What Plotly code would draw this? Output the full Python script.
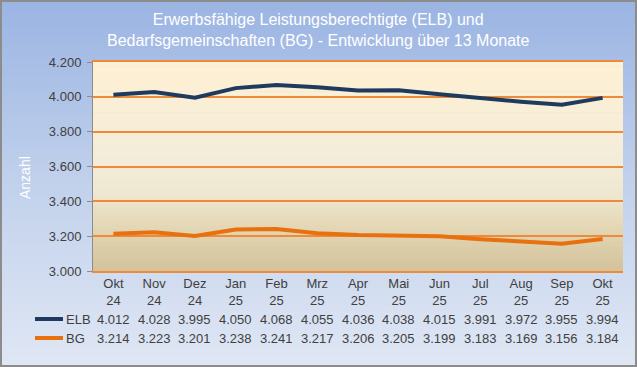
import plotly.graph_objects as go

months = ["Okt", "Nov", "Dez", "Jan", "Feb", "Mrz", "Apr", "Mai", "Jun", "Jul", "Aug", "Sep", "Okt"]
years = ["24", "24", "24", "25", "25", "25", "25", "25", "25", "25", "25", "25", "25"]
elb = [4012, 4028, 3995, 4050, 4068, 4055, 4036, 4038, 4015, 3991, 3972, 3955, 3994]
bg = [3214, 3223, 3201, 3238, 3241, 3217, 3206, 3205, 3199, 3183, 3169, 3156, 3184]
series_names = ["ELB", "BG"]
y_ticks = [3000, 3200, 3400, 3600, 3800, 4000, 4200]

cats = [f"{m} {y}" for m, y in zip(months, years)]
tick_text = [f"{m}<br>{y}" for m, y in zip(months, years)]

W, H = 637, 367
L, R, T, B = 93, 14, 62, 96
PW, PH = W - L - R, H - T - B

ELB_COL = "#1F3A5F"
BG_COL = "#E8700E"
TXT = "#404040"


def px_x(px):
    return (px - L) / PW


def px_y(py):
    return (H - B - py) / PH


def fmt(v):
    return f"{v:,}".replace(",", ".")


def hex2rgb(h):
    h = h.lstrip("#")
    return tuple(int(h[i:i + 2], 16) for i in (0, 2, 4))


def interp(stops, t):
    for (t0, c0), (t1, c1) in zip(stops, stops[1:]):
        if t0 <= t <= t1:
            f = (t - t0) / (t1 - t0) if t1 > t0 else 0
            a, b = hex2rgb(c0), hex2rgb(c1)
            return "rgb(%d,%d,%d)" % tuple(round(a[i] + (b[i] - a[i]) * f) for i in range(3))
    return stops[-1][1]


fig = go.Figure()
fig.add_trace(go.Scatter(x=cats, y=elb, mode="lines", name=series_names[0],
                         line=dict(color=ELB_COL, width=4), showlegend=False))
fig.add_trace(go.Scatter(x=cats, y=bg, mode="lines", name=series_names[1],
                         line=dict(color=BG_COL, width=4), showlegend=False))

shapes = []
# outer background gradient (top -> bottom)
outer_stops = [(0, "#9AB4E2"), (0.5, "#C2D1EC"), (1, "#DFE7F4")]
n = 60
for i in range(n):
    y0p = i * H / n
    y1p = (i + 1) * H / n + 0.6
    shapes.append(dict(type="rect", xref="paper", yref="paper", layer="below",
                       x0=px_x(0), x1=px_x(W), y0=px_y(min(y1p, H)), y1=px_y(y0p),
                       fillcolor=interp(outer_stops, (i + 0.5) / n), line=dict(width=0)))
# plot area gradient
plot_stops = [(0, "#FEF0D3"), (0.45, "#F4EDD9"), (0.62, "#EFE8D2"), (0.8, "#E3D6B4"), (1, "#D3C29B")]
n = 50
for i in range(n):
    y0p = T + i * PH / n
    y1p = T + (i + 1) * PH / n + 0.6
    shapes.append(dict(type="rect", xref="paper", yref="paper", layer="below",
                       x0=0, x1=1, y0=px_y(min(y1p, T + PH)), y1=px_y(y0p),
                       fillcolor=interp(plot_stops, (i + 0.5) / n), line=dict(width=0)))
# outer border
shapes.append(dict(type="rect", xref="paper", yref="paper", layer="above",
                   x0=px_x(1), x1=px_x(W - 1), y0=px_y(H - 1), y1=px_y(1),
                   line=dict(color="#8C8C8C", width=2), fillcolor="rgba(0,0,0,0)"))
# legend keys
for name, col, py in [(series_names[0], ELB_COL, 319), (series_names[1], BG_COL, 338)]:
    shapes.append(dict(type="line", xref="paper", yref="paper",
                       x0=px_x(35), x1=px_x(63), y0=px_y(py), y1=px_y(py),
                       line=dict(color=col, width=4)))

annotations = []
annotations.append(dict(text="Erwerbsfähige Leistungsberechtigte (ELB) und<br>Bedarfsgemeinschaften (BG) - Entwicklung über 13 Monate",
                        xref="paper", yref="paper", x=px_x(318), y=px_y(30),
                        xanchor="center", yanchor="middle", showarrow=False,
                        font=dict(size=16, color="white")))
annotations.append(dict(text="Anzahl", xref="paper", yref="paper", x=px_x(25), y=px_y(178),
                        textangle=-90, xanchor="center", yanchor="middle", showarrow=False,
                        font=dict(size=14, color="white")))
for name, vals, py in [(series_names[0], elb, 319), (series_names[1], bg, 338)]:
    annotations.append(dict(text=name, xref="paper", yref="paper", x=px_x(64), y=px_y(py),
                            xanchor="left", yanchor="middle", showarrow=False,
                            font=dict(size=13, color=TXT)))
    for c, v in zip(cats, vals):
        annotations.append(dict(text=fmt(v), xref="x", yref="paper", x=c, y=px_y(py),
                                xanchor="center", yanchor="middle", showarrow=False,
                                font=dict(size=13, color=TXT)))

fig.update_layout(
    width=W, height=H,
    margin=dict(l=L, r=R, t=T, b=B),
    paper_bgcolor="#C2D1EC",
    plot_bgcolor="rgba(0,0,0,0)",
    separators=",.",
    font=dict(family="Liberation Sans, Arial, sans-serif", size=13, color=TXT),
    shapes=shapes,
    annotations=annotations,
    showlegend=False,
    xaxis=dict(type="category", categoryorder="array", categoryarray=cats,
               tickvals=cats, ticktext=tick_text, range=[-0.5, len(cats) - 0.5],
               showgrid=False, showline=True, linecolor="#EE8A3A", linewidth=1.5, mirror=True,
               ticks="", tickfont=dict(size=13, color=TXT), zeroline=False),
    yaxis=dict(range=[y_ticks[0], y_ticks[-1]], tickvals=y_ticks, tickformat=",d",
               showgrid=True, gridcolor="#EE8A3A", gridwidth=1.5,
               showline=True, linecolor="#8C8C8C", linewidth=1,
               ticks="outside", ticklen=5, tickcolor="#8C8C8C", ticklabelstandoff=3,
               tickfont=dict(size=13, color=TXT), zeroline=False),
)

fig.write_html("out.html", config={"displayModeBar": False},
               post_script="document.body.style.margin='0';document.body.style.overflow='hidden';")
